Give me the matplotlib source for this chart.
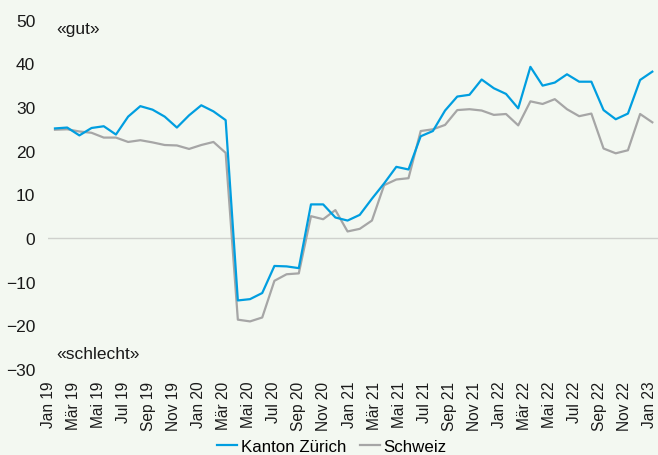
"""
Geschäftslage: Kanton Zürich vs. Schweiz, monthly saldo Jan 2019 - Feb 2023.
"""

import matplotlib
matplotlib.use("Agg")

import matplotlib.pyplot as plt
import numpy as np


# ── Data ──────────────────────────────────────────────────────────────────────

zuerich = [
    25.1, 25.3, 23.5, 25.2, 25.6, 23.7, 27.8, 30.2, 29.4, 27.8, 25.3, 28.1,   # 2019
    30.4, 29.0, 27.0, -14.3, -14.0, -12.6, -6.4, -6.5, -6.9, 7.7, 7.7, 4.7,  # 2020
    4.0, 5.3, 9.0, 12.5, 16.3, 15.7, 23.3, 24.5, 29.2, 32.4, 32.8, 36.3,     # 2021
    34.3, 33.0, 29.7, 39.2, 34.9, 35.6, 37.5, 35.8, 35.8, 29.3, 27.2, 28.5,  # 2022
    36.2, 38.1,                                                              # 2023
]
schweiz = [
    24.8, 24.9, 24.4, 24.1, 23.0, 23.0, 22.0, 22.4, 21.9, 21.3, 21.2, 20.4,
    21.3, 22.0, 19.5, -18.7, -19.1, -18.2, -9.8, -8.3, -8.1, 5.0, 4.3, 6.4,
    1.5, 2.1, 4.0, 12.1, 13.4, 13.7, 24.5, 24.9, 25.9, 29.3, 29.5, 29.2,
    28.2, 28.4, 25.8, 31.3, 30.7, 31.8, 29.5, 27.9, 28.5, 20.5, 19.4, 20.1,
    28.4, 26.5,
]

month_names = ["Jan", "Mär", "Mai", "Jul", "Sep", "Nov"]
years = ["19", "20", "21", "22", "23"]
tick_labels = [f"{m} {y}" for y in years for m in month_names][:25]

y_ticks = [-30, -20, -10, 0, 10, 20, 30, 40, 50]

BLUE = "#009ee0"
GREY = "#a6a6a6"
BG = "#f3f8f1"
FONT = "Liberation Sans"
FS = 12.5        # y ticks, annotations
FS_X = 11.2      # rotated month labels
FS_LEG = 12.2


# ── Figure ────────────────────────────────────────────────────────────────────

plt.rcParams["font.family"] = [FONT, "DejaVu Sans"]
plt.rcParams["axes.unicode_minus"] = True

fig = plt.figure(figsize=(6.58, 4.56), dpi=100, facecolor=BG)
W, H = 658, 456
left, right, top, bottom = 48.3, 658, 20.7, 370
ax = fig.add_axes([left / W, 1 - bottom / H, (right - left) / W, (bottom - top) / H])
ax.set_facecolor(BG)

x = np.arange(len(zuerich))
ax.axhline(0, color="#cfd1cd", lw=1.0, zorder=1)
ax.plot(x, schweiz, color=GREY, lw=1.6, label="Schweiz", zorder=2)
ax.plot(x, zuerich, color=BLUE, lw=1.6, label="Kanton Zürich", zorder=3)

# data runs from px 54 to 652 across the axes
step = (652.3 - 54) / (len(x) - 1)
ax.set_xlim(-(54 - left) / step, (len(x) - 1) + (right - 652.3) / step)
ax.set_ylim(-30, 50)

# labels in the source are spread a little wider than the monthly points
label_px = 47.3 + np.arange(len(tick_labels)) * (649.7 - 47.3) / (len(tick_labels) - 1)
ax.set_xticks((label_px - 54) / step)
ax.set_xticklabels(tick_labels, rotation=90, fontsize=FS_X)
ax.set_yticks(y_ticks)
ax.set_yticklabels([f"{v:d}".replace("-", "\u2212") for v in y_ticks], fontsize=FS)
ax.tick_params(axis="both", length=0, colors="#1a1a1a")
ax.tick_params(axis="y", pad=9.4)
ax.tick_params(axis="x", pad=8.5)

for s in ax.spines.values():
    s.set_visible(False)

ax.text(0.1, 49.8, "«gut»", fontsize=FS, va="top", ha="left", color="#1a1a1a")
ax.text(0.1, -27.4, "«schlecht»", fontsize=FS, va="baseline", ha="left", color="#1a1a1a")

handles, labels = ax.get_legend_handles_labels()
fig.legend(
    handles[::-1], labels[::-1],
    loc="lower center", bbox_to_anchor=(0.504, -0.024),
    ncol=2, frameon=False, fontsize=FS_LEG,
    handlelength=1.2, handletextpad=0.2, columnspacing=0.8,
    borderpad=0.2,
)

fig.savefig("out.png", dpi=100, facecolor=BG)
plt.close(fig)
